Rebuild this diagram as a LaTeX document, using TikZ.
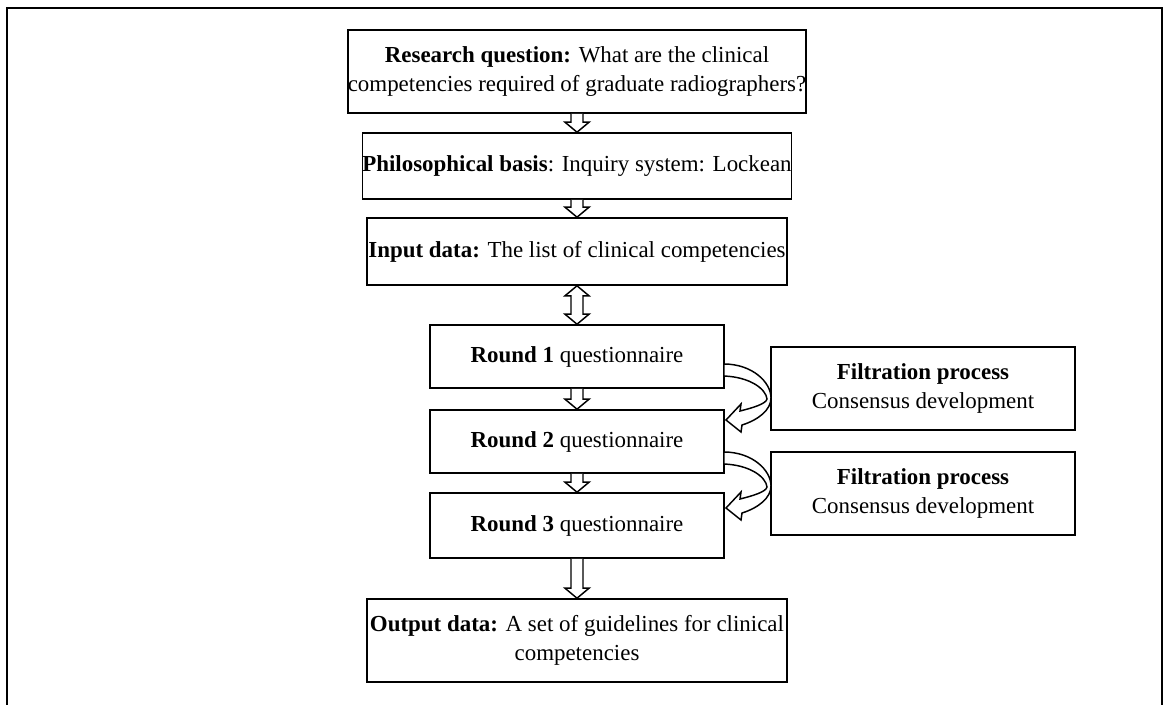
\documentclass[tikz,border=0pt]{standalone}
\usepackage{fontspec}
\setmainfont{Liberation Serif}
\usetikzlibrary{calc}
\tikzset{
  box/.style={draw, line width=1.2pt, inner sep=0pt, align=center,
    font=\fontsize{17.2}{21.5}\selectfont},
  mainbox/.style={box, minimum width=315pt},
  roundbox/.style={box, minimum width=220.5pt, minimum height=47.25pt},
  filtbox/.style={box, minimum width=228pt, minimum height=62.25pt},
  hollow/.style={draw, line width=1.1pt, fill=white, line join=miter},
  frame/.style={draw, line width=1.3pt}
}
\newcommand\hdown[2]{%
  \path[hollow] let \p1=(#1.south), \p2=(#2.north) in
    (\x1-4.5pt,\y1) -- (\x1-4.5pt,\y2+7.5pt) -- (\x1-9pt,\y2+7.5pt) -- (\x1,\y2)
    -- (\x1+9pt,\y2+7.5pt) -- (\x1+4.5pt,\y2+7.5pt) -- (\x1+4.5pt,\y1);}
\newcommand\hboth[2]{%
  \path[hollow] let \p1=(#1.south), \p2=(#2.north) in
    (\x1,\y1) -- (\x1+9pt,\y1-7.5pt) -- (\x1+4.5pt,\y1-7.5pt)
    -- (\x1+4.5pt,\y2+7.5pt) -- (\x1+9pt,\y2+7.5pt) -- (\x1,\y2)
    -- (\x1-9pt,\y2+7.5pt) -- (\x1-4.5pt,\y2+7.5pt)
    -- (\x1-4.5pt,\y1-7.5pt) -- (\x1-9pt,\y1-7.5pt) -- cycle;}
\newcommand\crescent[1]{%
  \path[hollow, shift={#1}]
    (0,0) .. controls (28,0) and (47,18) .. (47,34)
    .. controls (47,46) and (34,56) .. (18,61)
    -- (17,68) -- (2,56) -- (17,40) -- (16,47)
    .. controls (28,44) and (42,40) .. (43,35)
    .. controls (42,25) and (26,13) .. (0,12) -- cycle;}
\begin{document}
\begin{tikzpicture}[x=0.75pt,y=-0.75pt]
\useasboundingbox (0,0) rectangle (1163,704);
\path[frame] (7,720) -- (7,8) -- (1162,8) -- (1162,720);

\node[mainbox, minimum height=62.25pt] (rq) at (577,71.5)
  {\textbf{Research question:} What are the clinical\\competencies required of graduate radiographers?};
\node[mainbox, minimum height=49.5pt] (pb) at (577,166)
  {\textbf{Philosophical basis}: Inquiry system: Lockean};
\node[mainbox, minimum height=50.25pt] (id) at (577,251.5)
  {\textbf{Input data:} The list of clinical competencies};
\node[roundbox] (r1) at (577,356.5) {\textbf{Round 1} questionnaire};
\node[roundbox] (r2) at (577,441.5) {\textbf{Round 2} questionnaire};
\node[roundbox, minimum height=48.75pt] (r3) at (577,525.5) {\textbf{Round 3} questionnaire};
\node[mainbox, minimum height=62.25pt] (od) at (577,640.5)
  {\textbf{Output data:} A set of guidelines for clinical\\competencies};
\node[filtbox] (f1) at (923,388.5) {\textbf{Filtration process}\\Consensus development};
\node[filtbox] (f2) at (923,493.5) {\textbf{Filtration process}\\Consensus development};

\hdown{rq}{pb}
\hdown{pb}{id}
\hboth{id}{r1}
\hdown{r1}{r2}
\hdown{r2}{r3}
\hdown{r3}{od}

\crescent{(724,364)}
\crescent{(724,452)}
\end{tikzpicture}
\end{document}
